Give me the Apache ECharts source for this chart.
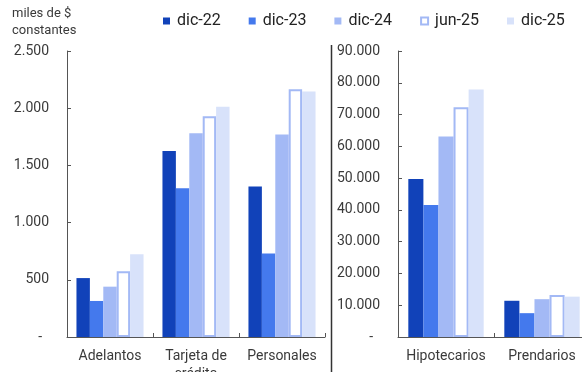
<!DOCTYPE html>
<html>
<head>
<meta charset="utf-8">
<script src="https://cdn.jsdelivr.net/npm/echarts@6/dist/echarts.min.js"></script>
<style>
  html, body { margin: 0; padding: 0; background: #fff; }
  #chart { width: 582px; height: 372px; }
</style>
</head>
<body>
<div id="chart"></div>
<script>
// Periods shown in the legend
const periods = ['dic-22', 'dic-23', 'dic-24', 'jun-25', 'dic-25'];

// Left panel: consumer lines (miles de $ constantes)
const leftCategories = ['Adelantos', 'Tarjeta de\ncrédito', 'Personales'];
const leftDic22 = [515, 1625, 1315];
const leftDic23 = [315, 1300, 730];
const leftDic24 = [440, 1780, 1770];
const leftJun25 = [575, 1930, 2165];
const leftDic25 = [723, 2013, 2145];

// Right panel: secured lines
const rightCategories = ['Hipotecarios', 'Prendarios'];
const rightDic22 = [49700, 11400];
const rightDic23 = [41500, 7500];
const rightDic24 = [63100, 11900];
const rightJun25 = [72300, 13200];
const rightDic25 = [77900, 12700];

// Y-axis tick settings
const leftMax = 2500, leftStep = 500;
const rightMax = 90000, rightStep = 10000;

const leftValues = [leftDic22, leftDic23, leftDic24, leftJun25, leftDic25];
const rightValues = [rightDic22, rightDic23, rightDic24, rightJun25, rightDic25];

const fills = ['#1142b9', '#4479ed', '#a3b9f5', '#ffffff', '#d8e2fa'];
const hollowBorder = '#a3b9f5';
const textColor = '#3a3a3a';
const axisColor = '#555555';
const font = 'Roboto, "Noto Sans", sans-serif';

function thousands(v) {
  if (v === 0) return '{z|-}';
  return String(v).replace(/\B(?=(\d{3})+(?!\d))/g, '.');
}

function itemStyleFor(i) {
  if (periods[i] === 'jun-25') {
    return { color: '#ffffff', borderColor: hollowBorder, borderWidth: 2 };
  }
  return { color: fills[i] };
}

function valueAxis(gridIndex, max, step) {
  return {
    type: 'value', gridIndex, min: 0, max, interval: step,
    axisLine: { show: true, lineStyle: { color: axisColor, width: 1 } },
    axisTick: { show: true, inside: true, length: 4, lineStyle: { color: axisColor } },
    splitLine: { show: false },
    axisLabel: {
      margin: 18, color: textColor, fontSize: 14, fontFamily: font,
      formatter: thousands,
      rich: { z: { fontSize: 14, fontFamily: font, color: textColor, padding: [0, 7, 0, 0] } }
    }
  };
}

function categoryAxis(gridIndex, data) {
  return {
    type: 'category', gridIndex, data,
    axisLine: { show: true, lineStyle: { color: axisColor, width: 1 } },
    axisTick: { show: true, inside: true, length: 4, lineStyle: { color: axisColor } },
    axisLabel: { interval: 0, margin: 10, color: textColor, fontSize: 14, lineHeight: 18, fontFamily: font }
  };
}

const series = [];
periods.forEach((p, i) => {
  series.push({
    name: p, type: 'bar', xAxisIndex: 0, yAxisIndex: 0,
    data: leftValues[i], barGap: '0%', barCategoryGap: '22%',
    itemStyle: itemStyleFor(i)
  });
});
periods.forEach((p, i) => {
  series.push({
    name: p, type: 'bar', xAxisIndex: 1, yAxisIndex: 1,
    data: rightValues[i], barGap: '0%', barCategoryGap: '21.5%',
    itemStyle: itemStyleFor(i)
  });
});

const chart = echarts.init(document.getElementById('chart'), null, { renderer: 'canvas' });
chart.setOption({
  animation: false,
  backgroundColor: '#ffffff',
  textStyle: { fontFamily: font },
  title: {
    text: 'miles de $\nconstantes',
    left: 12, top: 5, padding: 0,
    textStyle: { fontSize: 13, fontWeight: 'normal', color: textColor, lineHeight: 17, fontFamily: font }
  },
  legend: {
    data: periods,
    left: 163, top: 13, padding: 0,
    itemWidth: 7, itemHeight: 7, itemGap: 28,
    icon: 'rect',
    textStyle: { fontSize: 16, color: '#222222', fontFamily: font, padding: [0, 0, 0, 2] }
  },
  grid: [
    { left: 67, top: 51, width: 258, height: 286, containLabel: false, outerBoundsMode: 'none' },
    { left: 398, top: 51, width: 192, height: 286, containLabel: false, outerBoundsMode: 'none' }
  ],
  xAxis: [categoryAxis(0, leftCategories), categoryAxis(1, rightCategories)],
  yAxis: [valueAxis(0, leftMax, leftStep), valueAxis(1, rightMax, rightStep)],
  series,
  graphic: [{
    type: 'line', silent: true,
    shape: { x1: 331.5, y1: 45, x2: 331.5, y2: 372 },
    style: { stroke: '#333333', lineWidth: 1.5 }
  }]
});
</script>
</body>
</html>
